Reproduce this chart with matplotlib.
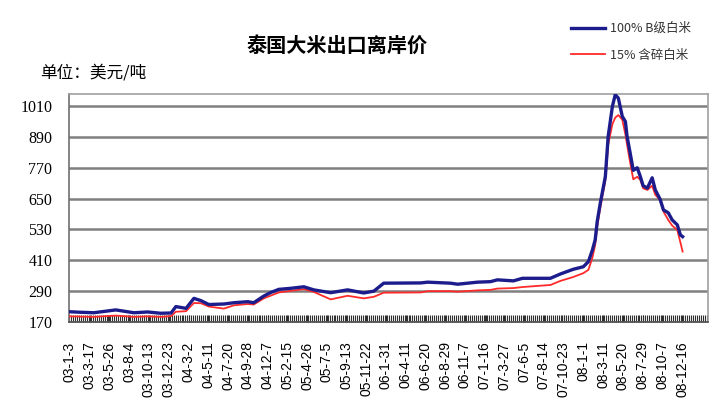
import matplotlib
matplotlib.use("Agg")
import matplotlib.pyplot as plt
import pandas as pd

plt.rcParams['font.family'] = ['Noto Sans CJK SC', 'DejaVu Sans']

# 100% B级白米 (蓝线)
blue_dates = ["2003-01-03", "2003-02-10", "2003-04-01", "2003-06-18", "2003-08-21",
              "2003-10-09", "2003-11-24", "2003-12-31", "2004-01-17", "2004-02-22",
              "2004-03-21", "2004-04-15", "2004-05-13", "2004-07-05", "2004-08-10",
              "2004-09-28", "2004-10-19", "2004-11-24", "2004-12-19", "2005-01-16",
              "2005-02-27", "2005-04-15", "2005-05-20", "2005-07-19", "2005-09-17",
              "2005-11-13", "2005-12-19", "2006-01-23", "2006-06-03", "2006-06-28",
              "2006-09-17", "2006-10-12", "2006-12-22", "2007-02-06", "2007-03-02",
              "2007-04-28", "2007-05-30", "2007-09-06", "2007-10-12", "2007-11-26",
              "2008-01-01", "2008-01-19", "2008-02-02", "2008-02-12", "2008-02-19",
              "2008-03-01", "2008-03-19", "2008-03-29", "2008-04-13", "2008-04-23",
              "2008-05-04", "2008-05-18", "2008-05-29", "2008-06-04", "2008-06-15",
              "2008-06-26", "2008-07-10", "2008-07-21", "2008-07-31", "2008-08-15",
              "2008-09-01", "2008-09-12", "2008-09-29", "2008-10-11", "2008-10-28",
              "2008-11-11", "2008-11-29", "2008-12-10", "2008-12-18"]
blue_vals = [210, 208, 206, 217, 206,
             209, 204, 205, 230, 223,
             262, 253, 238, 240, 245,
             249, 245, 271, 285, 297,
             301, 307, 295, 284, 295,
             283, 290, 321, 322, 325,
             321, 317, 325, 327, 334,
             330, 340, 340, 357, 375,
             385, 405, 450, 490, 560,
             632, 736, 892, 1009, 1054,
             1041, 970, 950, 892, 827,
             760, 770, 736, 700, 691,
             731, 684, 648, 606, 595,
             567, 548, 509, 502]

# 15% 含碎白米 (红线)
red_dates = ["2003-01-03", "2003-04-01", "2003-06-18", "2003-08-21", "2003-10-09",
             "2003-11-24", "2003-12-31", "2004-01-17", "2004-02-22", "2004-03-21",
             "2004-04-15", "2004-05-13", "2004-07-05", "2004-08-10", "2004-09-28",
             "2004-10-19", "2004-11-24", "2005-01-16", "2005-04-15", "2005-05-20",
             "2005-07-19", "2005-09-17", "2005-11-13", "2005-12-19", "2006-01-23",
             "2006-06-03", "2006-06-28", "2006-09-17", "2006-10-12", "2006-12-22",
             "2007-02-06", "2007-03-02", "2007-04-28", "2007-05-30", "2007-09-06",
             "2007-10-12", "2007-11-26", "2008-01-01", "2008-01-19", "2008-02-02",
             "2008-02-12", "2008-02-19", "2008-03-01", "2008-03-19", "2008-03-29",
             "2008-04-13", "2008-04-23", "2008-05-04", "2008-05-18", "2008-05-29",
             "2008-06-04", "2008-06-15", "2008-06-26", "2008-07-10", "2008-07-21",
             "2008-07-31", "2008-08-15", "2008-09-01", "2008-09-12", "2008-09-29",
             "2008-10-11", "2008-10-28", "2008-11-11", "2008-11-29", "2008-12-10",
             "2008-12-18"]
red_vals = [192, 190, 195, 190, 192,
            190, 193, 210, 212, 244,
            243, 230, 222, 235, 240,
            238, 262, 285, 298, 287,
            258, 272, 262, 268, 284,
            285, 290, 290, 288, 293,
            295, 300, 302, 306, 314,
            330, 345, 360, 373, 420,
            470, 540, 615, 720, 860,
            940, 965, 975, 957, 900,
            860, 790, 725, 735, 723,
            690, 684, 700, 665, 645,
            600, 567, 545, 528, 480,
            444]

# 横轴标签 (yy-m-d)
tick_labels = ["03-1-3", "03-3-17", "03-5-26", "03-8-4", "03-10-13",
               "03-12-23", "04-3-2", "04-5-11", "04-7-20", "04-9-28",
               "04-12-7", "05-2-15", "05-4-26", "05-7-5", "05-9-13",
               "05-11-22", "06-1-31", "06-4-11", "06-6-20", "06-8-29",
               "06-11-7", "07-1-16", "07-3-27", "07-6-5", "07-8-14",
               "07-10-23", "08-1-1", "08-3-11", "08-5-20", "08-7-29",
               "08-10-7", "08-12-16"]
y_ticks = [170, 290, 410, 530, 650, 770, 890, 1010]

fig = plt.figure(figsize=(7.2, 4), dpi=100)
ax = fig.add_axes([69 / 720, 1 - 322 / 400, (708 - 69) / 720, (322 - 94) / 400])

ax.plot(pd.to_datetime(red_dates), red_vals, color='#ff2a2a', lw=1.3, zorder=3,
        label='15% 含碎白米')
ax.plot(pd.to_datetime(blue_dates), blue_vals, color='#1c1c8c', lw=2.4, zorder=4,
        label='100% B级白米')

ax.set_xlim(pd.Timestamp("2003-01-03"), pd.Timestamp("2009-03-18"))
ax.set_ylim(170, 1057)

ax.set_yticks(y_ticks)
ax.set_yticklabels([str(v) for v in y_ticks], fontfamily='Liberation Serif', fontsize=11.5)
ax.tick_params(axis='y', length=0, pad=12)
ax.grid(axis='y', color='#808080', lw=1.8)
ax.set_axisbelow(True)

ax.set_xticks(pd.to_datetime(tick_labels, format="%y-%m-%d"))
ax.set_xticklabels(tick_labels, rotation=90, fontfamily='Liberation Sans', fontsize=10)
ax.set_xticks(pd.date_range("2003-01-03", "2009-03-18", freq="7D"), minor=True)
ax.tick_params(axis='x', which='both', direction='in', length=5, width=0.8,
               color='#303030', pad=14)

for s in ax.spines.values():
    s.set_color('#a0a0a0')
    s.set_linewidth(1.2)
ax.spines['left'].set_color('#707070')
ax.spines['bottom'].set_color('#505050')

fig.text(337 / 720, 1 - 45 / 400, '泰国大米出口离岸价', ha='center', va='center',
         fontsize=14.5, fontweight='bold')
fig.text(40 / 720, 1 - 73 / 400, '单位：美元/吨', ha='left', va='center', fontsize=12)

h, l = ax.get_legend_handles_labels()
fig.legend(h[::-1], l[::-1], loc='upper left', bbox_to_anchor=(566 / 720, 1 - 17 / 400),
           frameon=False, fontsize=9, handlelength=2.7, labelspacing=1.1,
           handletextpad=0.4, borderaxespad=0, labelcolor='#333333')

fig.savefig('out.png', dpi=100)
